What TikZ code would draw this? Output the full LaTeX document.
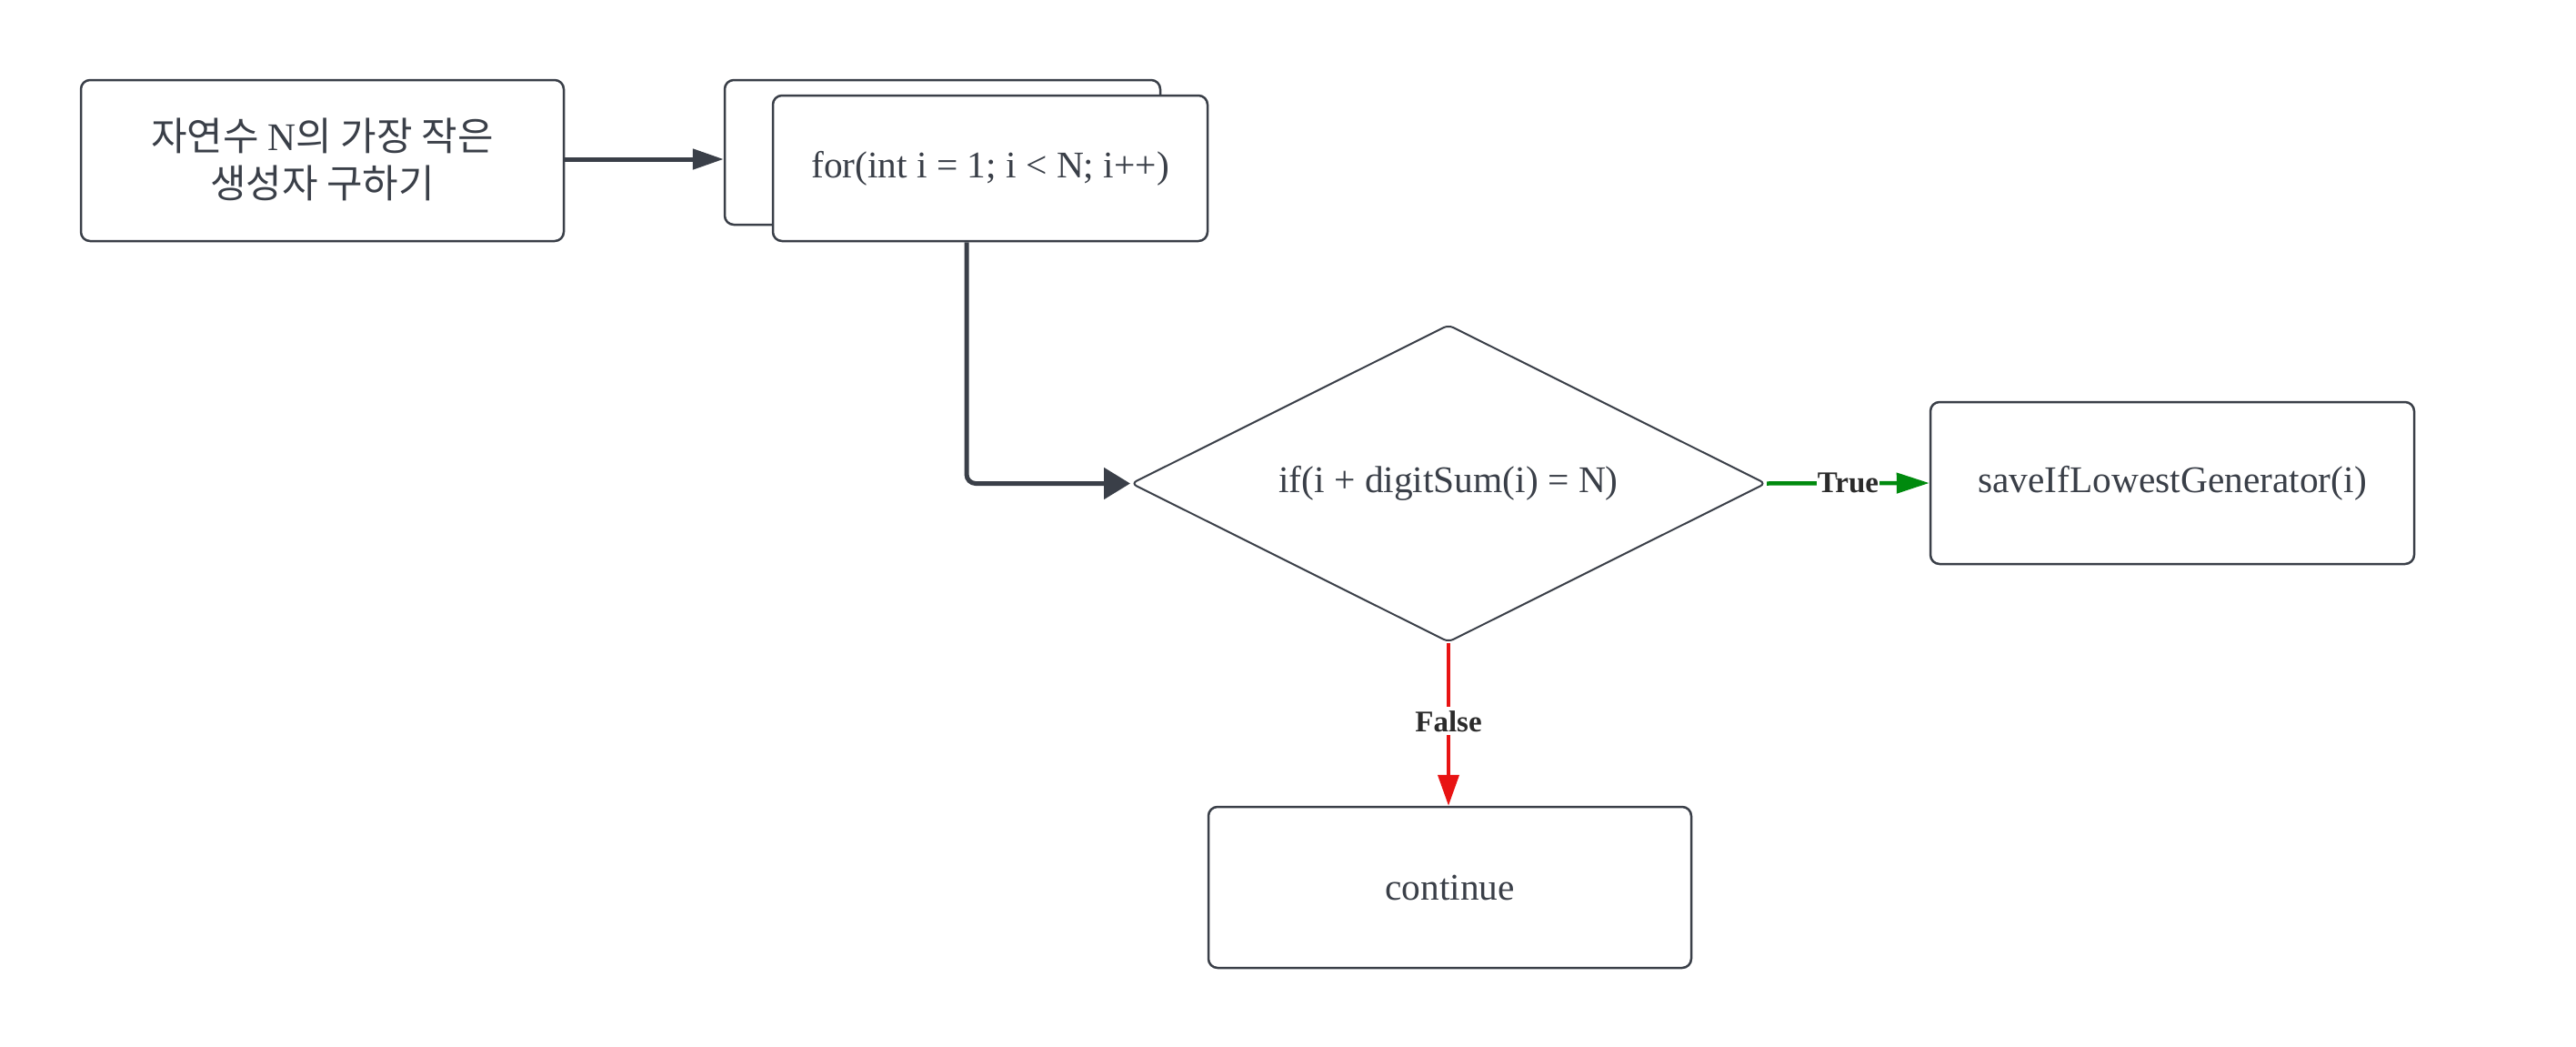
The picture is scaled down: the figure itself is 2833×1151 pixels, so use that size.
\documentclass[tikz,border=0pt]{standalone}
\usepackage{fontspec}
\setmainfont{Liberation Serif}
\newfontfamily\kr{Noto Sans CJK KR}
\usetikzlibrary{arrows.meta,shapes.geometric}
\definecolor{ink}{HTML}{3A3F48}
\definecolor{tgreen}{HTML}{008A0E}
\definecolor{tred}{HTML}{E81313}
\definecolor{lbl}{HTML}{2B2B2B}
\begin{document}
\begin{tikzpicture}[x=1pt,y=-1pt,
  box/.style={draw=ink,line width=2.5pt,rounded corners=10pt,fill=white,inner sep=0pt,
    text=ink,font=\fontsize{41.4}{48}\selectfont,align=center},
  decision/.style={diamond,shape aspect=2,draw=ink,line width=2pt,rounded corners=6pt,fill=white,inner sep=0pt,
    text=ink,font=\fontsize{41.4}{48}\selectfont},
  flowline/.style={draw=ink,line width=5pt,rounded corners=10pt},
  edgelabel/.style={fill=white,text=lbl,inner xsep=1pt,inner ysep=4pt,
    font=\fontsize{33}{36}\selectfont\bfseries}]
\fill[white] (0,0) rectangle (2833,1151);
\useasboundingbox (0,0) rectangle (2833,1151);

\node[box,minimum width=531pt,minimum height=177pt] (start) at (354.5,176.5)
  {\raisebox{6pt}{\fontsize{43}{50}\selectfont\kr 자연수 {\rmfamily\fontsize{43}{50}\selectfont N}의 가장 작은}\\[4pt]
   \raisebox{6pt}{\fontsize{43}{50}\selectfont\kr 생성자 구하기}};

\node[box,minimum width=479pt,minimum height=159pt] (back) at (1036.5,167.5) {};
\node[box,minimum width=478pt,minimum height=160pt] (loop) at (1089,185)
  {for(int i = 1; i < N; i++)};

\node[decision,minimum width=698pt,minimum height=349pt] (cond) at (1593,531.5)
  {\raisebox{4pt}{if(i + digitSum(i) = N)}};

\node[box,minimum width=532pt,minimum height=178pt] (save) at (2389,531)
  {saveIfLowestGenerator(i)};

\node[box,minimum width=531pt,minimum height=177pt] (cont) at (1594.5,975.5)
  {continue};

\draw[flowline,-{Triangle[length=34pt,width=22pt]}] ([yshift=1.5pt]start.east) -- ([yshift=1.5pt]start.east -| back.west);
\draw[flowline,-{Triangle[length=29pt,width=34pt]}] ([xshift=-26pt]loop.south) |- (cond.west);

\draw[draw=tgreen,line width=4.5pt,-{Triangle[length=36pt,width=22pt]}] (cond.east) --
  node[edgelabel] {True} (save.west);
\draw[draw=tred,line width=4pt,-{Triangle[length=34pt,width=23pt]}] (cond.south) --
  node[edgelabel,pos=0.48] {False} (cond.south |- cont.north);
\end{tikzpicture}
\end{document}
